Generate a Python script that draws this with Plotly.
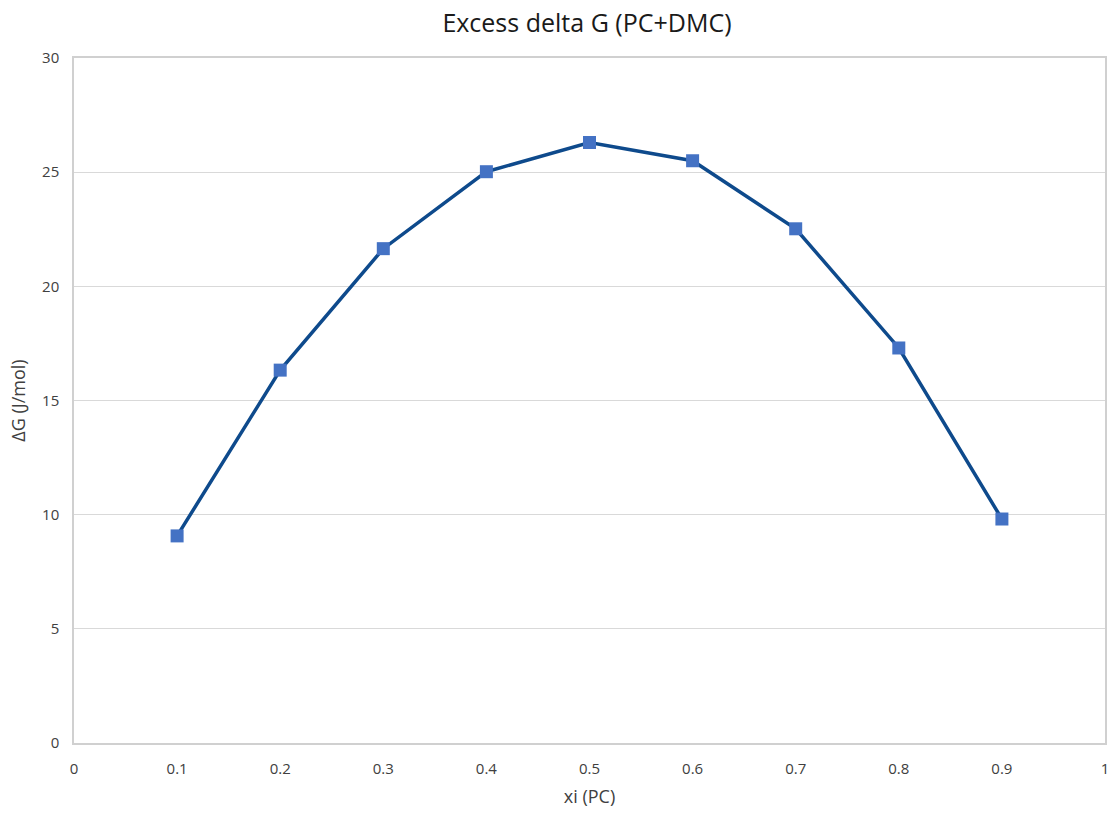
import plotly.graph_objects as go

# Mole fraction of PC and excess Gibbs energy of mixing
xi_pc = [0.1, 0.2, 0.3, 0.4, 0.5, 0.6, 0.7, 0.8, 0.9]
delta_g = [9.07, 16.33, 21.65, 25.02, 26.30, 25.50, 22.52, 17.30, 9.81]

x_ticks = [0, 0.1, 0.2, 0.3, 0.4, 0.5, 0.6, 0.7, 0.8, 0.9, 1]
x_tick_text = ["0", "0.1", "0.2", "0.3", "0.4", "0.5", "0.6", "0.7", "0.8", "0.9", "1"]
y_ticks = [0, 5, 10, 15, 20, 25, 30]

font_family = "Open Sans, Liberation Sans, sans-serif"
text_color = "#404040"

fig = go.Figure()
fig.add_trace(go.Scatter(
    x=xi_pc, y=delta_g,
    mode="lines+markers",
    line=dict(color="#0E4A8C", width=3.5),
    marker=dict(symbol="square", size=13, color="#4472C4",
                line=dict(color="#4472C4", width=0)),
    showlegend=False,
))

fig.update_layout(
    width=1118, height=817,
    margin=dict(l=74, r=13, t=58, b=74, autoexpand=False),
    paper_bgcolor="white",
    plot_bgcolor="white",
    font=dict(family=font_family, color=text_color),
    title=dict(text="Excess delta G (PC+DMC)", x=0.525, xanchor="center",
               y=0.972, yanchor="middle",
               font=dict(size=25, color="#1A1A1A", family=font_family)),
    xaxis=dict(
        range=[0, 1], tickmode="array", tickvals=x_ticks, ticktext=x_tick_text,
        showgrid=False, zeroline=False, automargin=False,
        showline=True, linecolor="#D0D0D0", linewidth=1.5, mirror=True,
        ticks="", tickfont=dict(size=15, color=text_color), ticklabelstandoff=11,
        title=dict(text="xi (PC)", font=dict(size=18, color=text_color), standoff=14),
    ),
    yaxis=dict(
        range=[0, 30], tickmode="array", tickvals=y_ticks,
        showgrid=True, gridcolor="#D9D9D9", gridwidth=1,
        zeroline=False, automargin=False,
        showline=True, linecolor="#D0D0D0", linewidth=1.5, mirror=True,
        ticks="", tickfont=dict(size=15, color=text_color), ticklabelstandoff=10,
        title=dict(text="ΔG (J/mol)", font=dict(size=18, color=text_color), standoff=12),
    ),
)

fig.write_html("out.html")
